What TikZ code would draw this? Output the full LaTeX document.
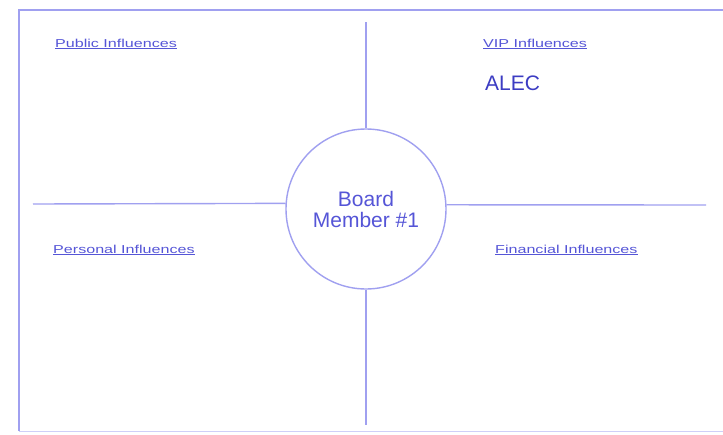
\documentclass[tikz,border=0pt]{standalone}
\usepackage{fontspec}
\setmainfont{Liberation Sans}
\newfontfamily\widefont[FakeStretch=1.4]{Liberation Sans}
\definecolor{linec}{RGB}{160,160,240}
\definecolor{textc}{RGB}{85,85,215}
\definecolor{alecc}{RGB}{60,60,195}
\tikzset{
  frame/.style={draw=linec, line width=1.4pt},
  faint/.style={draw=linec!50, line width=1pt},
  quadlabel/.style={anchor=base west, inner sep=0pt, text=textc, font=\widefont\fontsize{11.5}{13}\selectfont},
  bignote/.style={anchor=base west, inner sep=0pt, text=alecc, font=\fontsize{21}{24}\selectfont},
  member/.style={circle, draw=linec, line width=1.4pt, minimum size=160pt, inner sep=0pt, align=center, text=textc, font=\fontsize{21}{21}\selectfont}
}
\begin{document}
\begin{tikzpicture}[x=1pt,y=-1pt]
\useasboundingbox[fill=white] (0,0) rectangle (723,434);
% outer frame
\coordinate (tl) at (19,10);
\coordinate (tr) at (723,10);
\coordinate (bl) at (19,431);
\coordinate (br) at (723,431);
\draw[frame] (tr) -- (tl) -- (bl);
\draw[faint] (bl) -- (br);
% centre circle
\node[member] (c) at (366,209) {Board\\Member \#1};
% dividers
\coordinate (vt) at (366,22);
\coordinate (vb) at (366,425);
\coordinate (hl) at (33,204);
\coordinate (hr) at (706,205);
\draw[frame] (vt) -- (c.north);
\draw[frame] (c.south) -- (vb);
\draw[frame] (hl) -- (c.176);
\draw[frame] (c.3) -- (hr);
% labels
\node[quadlabel] (pub) at (55,47) {\underline{Public Influences}};
\node[quadlabel] (vip) at (483,47) {\underline{VIP Influences}};
\node[quadlabel] (per) at (53,253) {\underline{Personal Influences}};
\node[quadlabel] (fin) at (495,253) {\underline{Financial Influences}};
\node[bignote] (alec) at (485,90) {ALEC};
\end{tikzpicture}
\end{document}
